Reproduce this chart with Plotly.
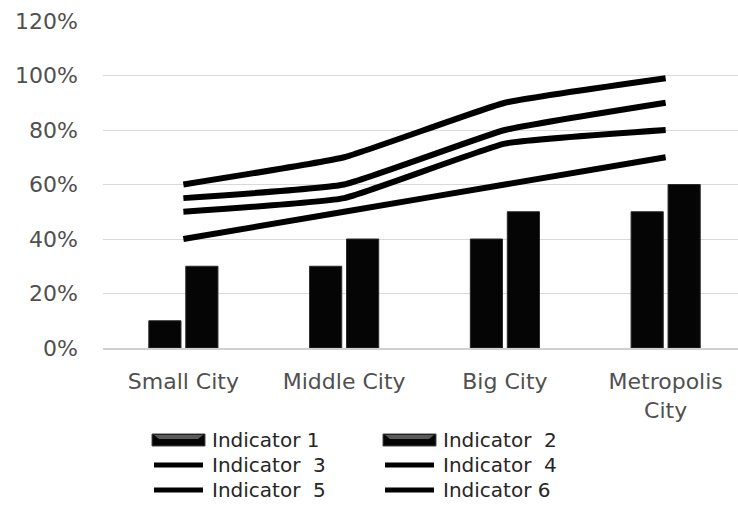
import plotly.graph_objects as go

categories = ["Small City", "Middle City", "Big City", "Metropolis<br>City"]
indicator_1 = [0.10, 0.30, 0.40, 0.50]
indicator_2 = [0.30, 0.40, 0.50, 0.60]
indicator_3 = [0.60, 0.70, 0.90, 0.99]
indicator_4 = [0.55, 0.60, 0.80, 0.90]
indicator_5 = [0.50, 0.55, 0.75, 0.80]
indicator_6 = [0.40, 0.50, 0.60, 0.70]
bar_names = ["Indicator 1", "Indicator\u00a0 2"]
line_names = ["Indicator\u00a0 3", "Indicator\u00a0 4", "Indicator\u00a0 5", "Indicator 6"]
y_ticks = [0, 0.2, 0.4, 0.6, 0.8, 1.0, 1.2]
y_tick_labels = ["0%", "20%", "40%", "60%", "80%", "100%", "120%"]

W, H = 738, 523
L, R, T, B = 103, 0, 21, 175
pw, ph = W - L - R, H - T - B

fig = go.Figure()
for name, vals in zip(bar_names, [indicator_1, indicator_2]):
    fig.add_trace(go.Bar(x=categories, y=vals, name=name,
                         marker=dict(color="#050505", line=dict(color="#2a2a2a", width=1)),
                         showlegend=False))
for name, vals in zip(line_names, [indicator_3, indicator_4, indicator_5, indicator_6]):
    fig.add_trace(go.Scatter(x=categories, y=vals, name=name, mode="lines",
                             line=dict(color="#000000", width=6, shape="spline", smoothing=0.35),
                             showlegend=False))

# manual legend (2 columns x 3 rows)
def px_x(p):
    return (p - L) / pw

def px_y(p):
    return (H - B - p) / ph

legend_names = bar_names + line_names
col_x = [152, 383]
row_y = [440, 465, 490]
shapes = []
annotations = []
for i, name in enumerate(legend_names):
    cx = col_x[i % 2]
    ry = row_y[i // 2]
    if i < 2:
        shapes.append(dict(type="rect", xref="paper", yref="paper",
                           x0=px_x(cx), x1=px_x(cx + 53), y0=px_y(ry + 6), y1=px_y(ry - 6),
                           fillcolor="#050505", line=dict(color="#444444", width=1)))
        shapes.append(dict(type="path", xref="paper", yref="paper",
                           path="M {} {} L {} {} L {} {} L {} {} Z".format(
                               px_x(cx + 2), px_y(ry - 5), px_x(cx + 51), px_y(ry - 5),
                               px_x(cx + 46), px_y(ry - 1), px_x(cx + 7), px_y(ry - 1)),
                           fillcolor="#5a5a5a", line=dict(width=0)))
    else:
        shapes.append(dict(type="line", xref="paper", yref="paper",
                           x0=px_x(cx + 2), x1=px_x(cx + 51), y0=px_y(ry), y1=px_y(ry),
                           line=dict(color="#000000", width=5)))
    annotations.append(dict(text=name, xref="paper", yref="paper",
                            x=px_x(cx + 58), y=px_y(ry), xanchor="left", yanchor="middle",
                            showarrow=False, font=dict(size=20, color="#262626",
                                                       family="DejaVu Sans")))

fig.update_layout(
    width=W, height=H,
    margin=dict(l=L, r=R, t=T, b=B),
    paper_bgcolor="white", plot_bgcolor="white",
    barmode="group", bargap=0.54, bargroupgap=0.13,
    font=dict(family="DejaVu Sans", size=21, color="#505050"),
    shapes=shapes, annotations=annotations,
    xaxis=dict(range=[-0.5, 3.45], showgrid=False, showline=True, linecolor="#d0d0d0",
               linewidth=2, ticks="", ticklabelstandoff=13,
               tickfont=dict(size=22, color="#505050")),
    yaxis=dict(range=[0, 1.2], tickvals=y_ticks, ticktext=y_tick_labels,
               showgrid=True, gridcolor="#d9d9d9", gridwidth=1, zeroline=False,
               showline=False, ticks="", ticklabelstandoff=24,
               tickfont=dict(size=22, color="#505050")),
)

fig.write_html("out.html")
